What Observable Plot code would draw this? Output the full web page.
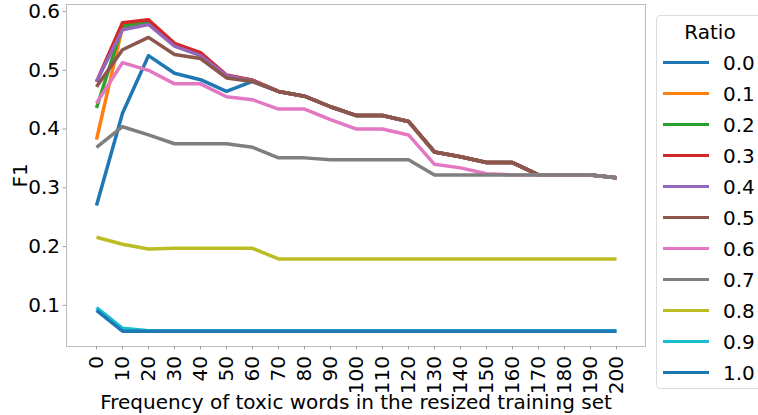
<!DOCTYPE html>
<html>
<head>
<meta charset="utf-8">
<script src="https://cdn.jsdelivr.net/npm/d3@7"></script>
<script src="https://cdn.jsdelivr.net/npm/@observablehq/plot@0.6"></script>
<style>
  html, body { margin: 0; padding: 0; background: #fff; }
  #wrap { position: relative; width: 758px; height: 415px; overflow: hidden; font-family: "DejaVu Sans", sans-serif; }
  #legend { position: absolute; left: 656px; top: 15px; width: 108px; height: 374px; border: 1px solid #dcdcdc; border-radius: 4px; background: #fff; box-sizing: border-box; padding-top: 2px; }
  #legend .title { height: 29px; line-height: 29px; font-size: 20px; text-align: center; color: #000; }
  #legend .row { height: 31px; display: flex; align-items: center; }
  #legend .sw { width: 46px; height: 3.5px; margin-left: 6px; }
  #legend .lab { margin-left: 14px; font-size: 20px; color: #000; }
</style>
</head>
<body>
<div id="wrap"></div>
<script>
const freq = ["0","10","20","30","40","50","60","70","80","90","100","110","120","130","140","150","160","170","180","190","200"];
const ratios = ["0.0","0.1","0.2","0.3","0.4","0.5","0.6","0.7","0.8","0.9","1.0"];
const colors = ["#1f77b4","#ff7f0e","#2ca02c","#d62728","#9467bd","#8c564b","#e377c2","#7f7f7f","#bcbd22","#17becf","#1f77b4"];
const yTicks = [0.1, 0.2, 0.3, 0.4, 0.5, 0.6];

const r00 = [0.270,0.427,0.525,0.495,0.484,0.464,0.481,0.464,0.456,0.438,0.423,0.423,0.413,0.361,0.353,0.343,0.343,0.322,0.322,0.322,0.317];
const r01 = [0.382,0.574,0.582,0.543,0.527,0.491,0.483,0.464,0.456,0.438,0.423,0.423,0.413,0.361,0.353,0.343,0.343,0.322,0.322,0.322,0.317];
const r02 = [0.436,0.575,0.583,0.544,0.528,0.491,0.483,0.464,0.456,0.438,0.423,0.423,0.413,0.361,0.353,0.343,0.343,0.322,0.322,0.322,0.317];
const r03 = [0.480,0.581,0.586,0.546,0.530,0.492,0.483,0.464,0.456,0.438,0.423,0.423,0.413,0.361,0.353,0.343,0.343,0.322,0.322,0.322,0.317];
const r04 = [0.481,0.569,0.578,0.541,0.525,0.491,0.482,0.464,0.456,0.438,0.423,0.423,0.413,0.361,0.353,0.343,0.343,0.322,0.322,0.322,0.317];
const r05 = [0.472,0.535,0.556,0.527,0.520,0.487,0.481,0.464,0.456,0.438,0.423,0.423,0.413,0.361,0.353,0.343,0.343,0.322,0.322,0.322,0.317];
const r06 = [0.444,0.513,0.500,0.477,0.477,0.455,0.450,0.434,0.434,0.416,0.400,0.400,0.390,0.340,0.334,0.324,0.322,0.322,0.322,0.322,0.317];
const r07 = [0.369,0.404,0.390,0.375,0.375,0.375,0.369,0.351,0.351,0.348,0.348,0.348,0.348,0.322,0.322,0.322,0.322,0.322,0.322,0.322,0.317];
const r08 = [0.216,0.204,0.196,0.197,0.197,0.197,0.197,0.179,0.179,0.179,0.179,0.179,0.179,0.179,0.179,0.179,0.179,0.179,0.179,0.179,0.179];
const r09 = [0.096,0.061,0.057,0.057,0.057,0.057,0.057,0.057,0.057,0.057,0.057,0.057,0.057,0.057,0.057,0.057,0.057,0.057,0.057,0.057,0.057];
const r10 = [0.0915,0.056,0.056,0.056,0.056,0.056,0.056,0.056,0.056,0.056,0.056,0.056,0.056,0.056,0.056,0.056,0.056,0.056,0.056,0.056,0.056];

const series = [r00,r01,r02,r03,r04,r05,r06,r07,r08,r09,r10];
const rows = [];
series.forEach((vals, si) => vals.forEach((v, i) => rows.push({x: freq[i], y: v, ratio: ratios[si]})));

const chart = Plot.plot({
  width: 758,
  height: 415,
  marginLeft: 66,
  marginRight: 113,
  marginTop: 4,
  marginBottom: 69,
  style: {fontFamily: "DejaVu Sans, sans-serif", fontSize: "20px", color: "#000", background: "#fff"},
  x: {type: "point", domain: freq, padding: 1},
  y: {domain: [0.030, 0.612]},
  color: {type: "ordinal", domain: ratios, range: colors},
  marks: [
    Plot.frame({stroke: "#bdbdbd", strokeWidth: 1}),
    Plot.axisY({ticks: yTicks, tickFormat: d3.format(".1f"), tickSize: 3.5, tickPadding: 3, stroke: "#a0a0a0", fill: "#000", fontSize: 20,
      label: "F1", labelAnchor: "center", labelOffset: 54, labelArrow: "none"}),
    Plot.axisX({tickRotate: -90, tickSize: 3.5, tickPadding: 6, stroke: "#a0a0a0", fill: "#000", fontSize: 20,
      label: "Frequency of toxic words in the resized training set", labelAnchor: "center", labelOffset: 62, labelArrow: "none"}),
    Plot.line(rows, {x: "x", y: "y", z: "ratio", stroke: "ratio", strokeWidth: 3.5, strokeLinejoin: "round", strokeLinecap: "butt"})
  ]
});

const wrap = document.getElementById("wrap");
wrap.appendChild(chart);

const legend = document.createElement("div");
legend.id = "legend";
const title = document.createElement("div");
title.className = "title";
title.textContent = "Ratio";
legend.appendChild(title);
ratios.forEach((r, i) => {
  const row = document.createElement("div");
  row.className = "row";
  const sw = document.createElement("div");
  sw.className = "sw";
  sw.style.background = colors[i];
  const lab = document.createElement("div");
  lab.className = "lab";
  lab.textContent = r;
  row.appendChild(sw);
  row.appendChild(lab);
  legend.appendChild(row);
});
wrap.appendChild(legend);
</script>
</body>
</html>
